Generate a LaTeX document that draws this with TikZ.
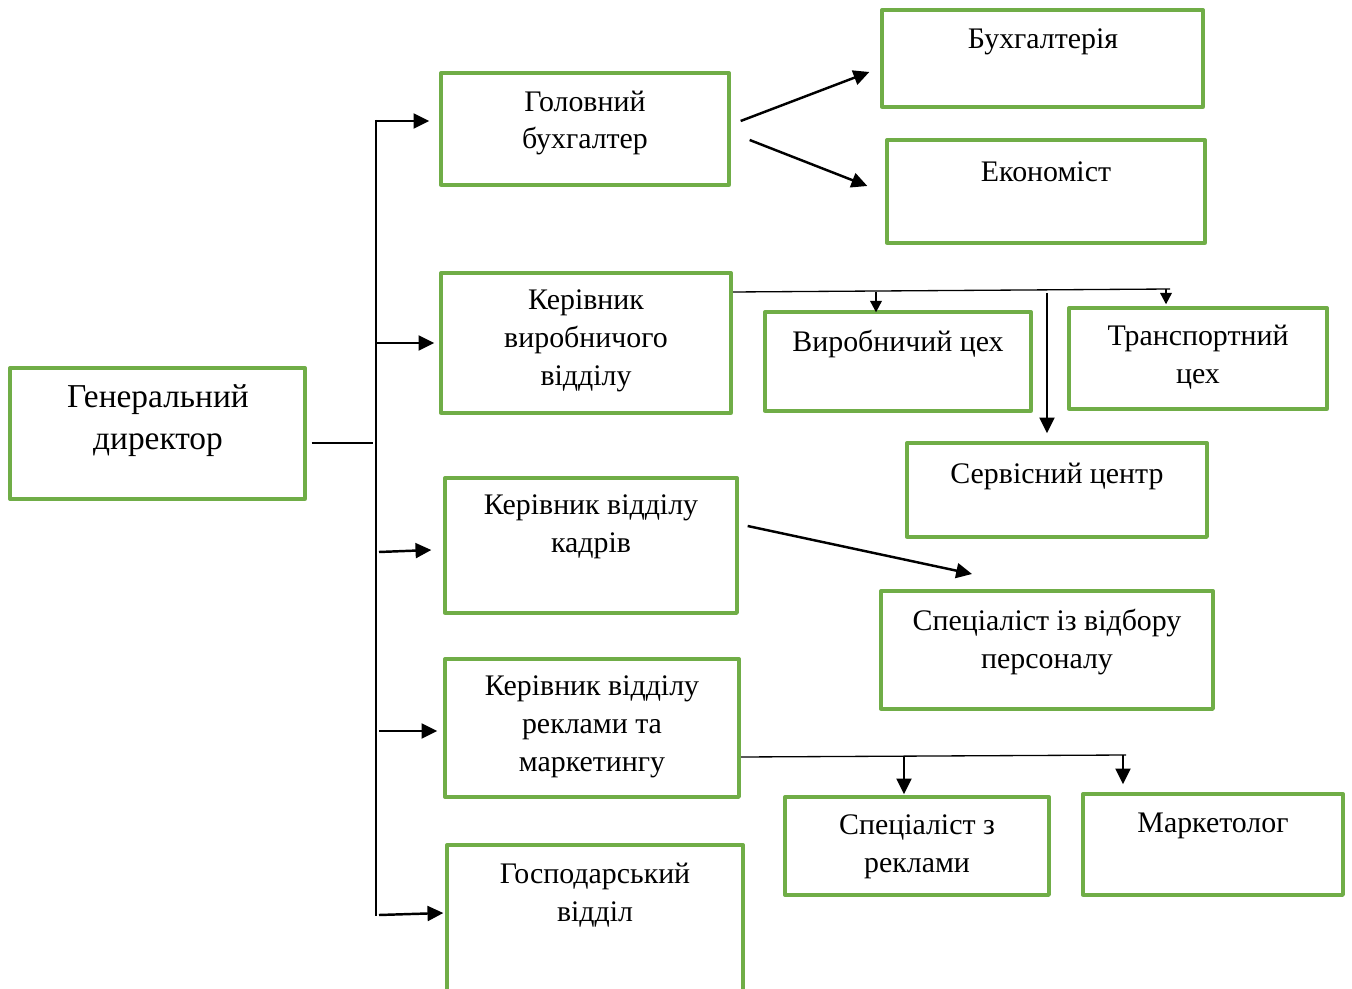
\documentclass[tikz,border=0pt]{standalone}
\usepackage{fontspec}
\setmainfont{Liberation Serif}
\usetikzlibrary{arrows.meta,fit}
\definecolor{boxgreen}{RGB}{112,173,71}
\begin{document}
\begin{tikzpicture}[x=0.02cm,y=-0.02cm,line join=round,
		box/.style={draw=boxgreen,line width=1.9pt,inner sep=0pt},
		txt/.style={align=center,font=\fontsize{17}{21.5}\selectfont},
		bigtxt/.style={align=center,font=\fontsize{19}{23.8}\selectfont},
		thinline/.style={line width=0.75pt},
		arr/.style={line width=1.4pt,-{Triangle[length=9pt,width=8.5pt]}},
		arrs/.style={line width=1.2pt,-{Triangle[length=6.5pt,width=6.5pt]}}]
	\useasboundingbox (0,0) rectangle (1352,989);
	% boxes
	\node[box,fit={(10,368) (305,499)}] (gen) {};
	\node[box,fit={(441,73) (729,185)}] (golov) {};
	\node[box,fit={(882,10) (1203,107)}] (buh) {};
	\node[box,fit={(887,140) (1205,243)}] (econ) {};
	\node[box,fit={(441,273) (731,413)}] (kerv) {};
	\node[box,fit={(765,312) (1031,411)}] (vyr) {};
	\node[box,fit={(1069,308) (1327,409)}] (trans) {};
	\node[box,fit={(907,443) (1207,537)}] (serv) {};
	\node[box,fit={(445,478) (737,613)}] (kadr) {};
	\node[box,fit={(881,591) (1213,709)}] (spec) {};
	\node[box,fit={(445,659) (739,797)}] (rekl) {};
	\node[box,fit={(785,797) (1049,895)}] (specr) {};
	\node[box,fit={(1083,794) (1343,895)}] (market) {};
	\node[box,fit={(447,845) (743,1000)}] (gosp) {};
	% texts
	\node[bigtxt] (gent) at (158,421) {Генеральний\\директор};
	\node[txt] (golovt) at (585,123) {Головний\\бухгалтер};
	\node[txt] (buht) at (1043,42) {Бухгалтерія};
	\node[txt] (econt) at (1046,172) {Економіст};
	\node[txt] (kervt) at (586,341) {Керівник\\виробничого\\відділу};
	\node[txt] (vyrt) at (898,344) {Виробничий цех};
	\node[txt] (transt) at (1198,357) {Транспортний\\цех};
	\node[txt] (servt) at (1057,476) {Сервісний центр};
	\node[txt] (kadrt) at (591,527) {Керівник відділу\\кадрів};
	\node[txt] (spect) at (1047,642) {Спеціаліст із відбору\\персоналу};
	\node[txt] (reklt) at (592,727) {Керівник відділу\\реклами та\\маркетингу};
	\node[txt] (specrt) at (917,847) {Спеціаліст з\\реклами};
	\node[txt] (markett) at (1213,826) {Маркетолог};
	\node[txt] (gospt) at (595,895) {Господарський\\відділ};
	% trunk
	\coordinate (ttop) at (376,120);
	\coordinate (tbot) at (376,916);
	\coordinate (tmid) at (373,443);
	\draw[thinline] ([xshift=0.1cm]gen.east |- tmid) -- (tmid);
	\draw[thinline] (ttop) -- (tbot);
	\draw[arr] (376,121) -- ([xshift=-0.2cm]golov.west |- 0,121);
	\draw[arr] (376,343) -- ([xshift=-0.1cm]kerv.west |- 0,343);
	\draw[arr] (379,552) -- ([xshift=-0.24cm]kadr.west |- 0,550);
	\draw[arr] (379,731) -- ([xshift=-0.12cm]rekl.west |- 0,731);
	\draw[arr] (379,915) -- ([xshift=-0.04cm]gosp.west |- 0,913);
	% chief accountant
	\draw[arr] ([xshift=0.2cm]golov.east |- 0,121) -- ([xshift=-0.22cm]buh.west |- 0,72);
	\draw[arr] ([xshift=0.38cm]golov.east |- 0,140) -- ([xshift=-0.36cm]econ.west |- 0,186);
	% production
	\coordinate (k1) at (733,292);
	\coordinate (k2) at (1170,289);
	\draw[thinline] (k1) -- (k2);
	\draw[arrs] (876,292) -- ([yshift=-0.04cm]vyr.north -| 876,0);
	\draw[arrs] (1166,289) -- ([yshift=0.04cm]trans.north -| 1166,0);
	\draw[arr] (1047,293) -- ([yshift=0.16cm]serv.north -| 1047,0);
	% personnel
	\draw[arr] ([xshift=0.18cm]kadr.east |- 0,526) -- (972,574);
	% marketing
	\coordinate (r1) at (741,757);
	\coordinate (r2) at (1126,755);
	\draw[thinline] (r1) -- (r2);
	\draw[arr] (904,757) -- ([yshift=0.02cm]specr.north -| 904,0);
	\draw[arr] (1123,755) -- ([yshift=0.16cm]market.north -| 1123,0);
\end{tikzpicture}
\end{document}
